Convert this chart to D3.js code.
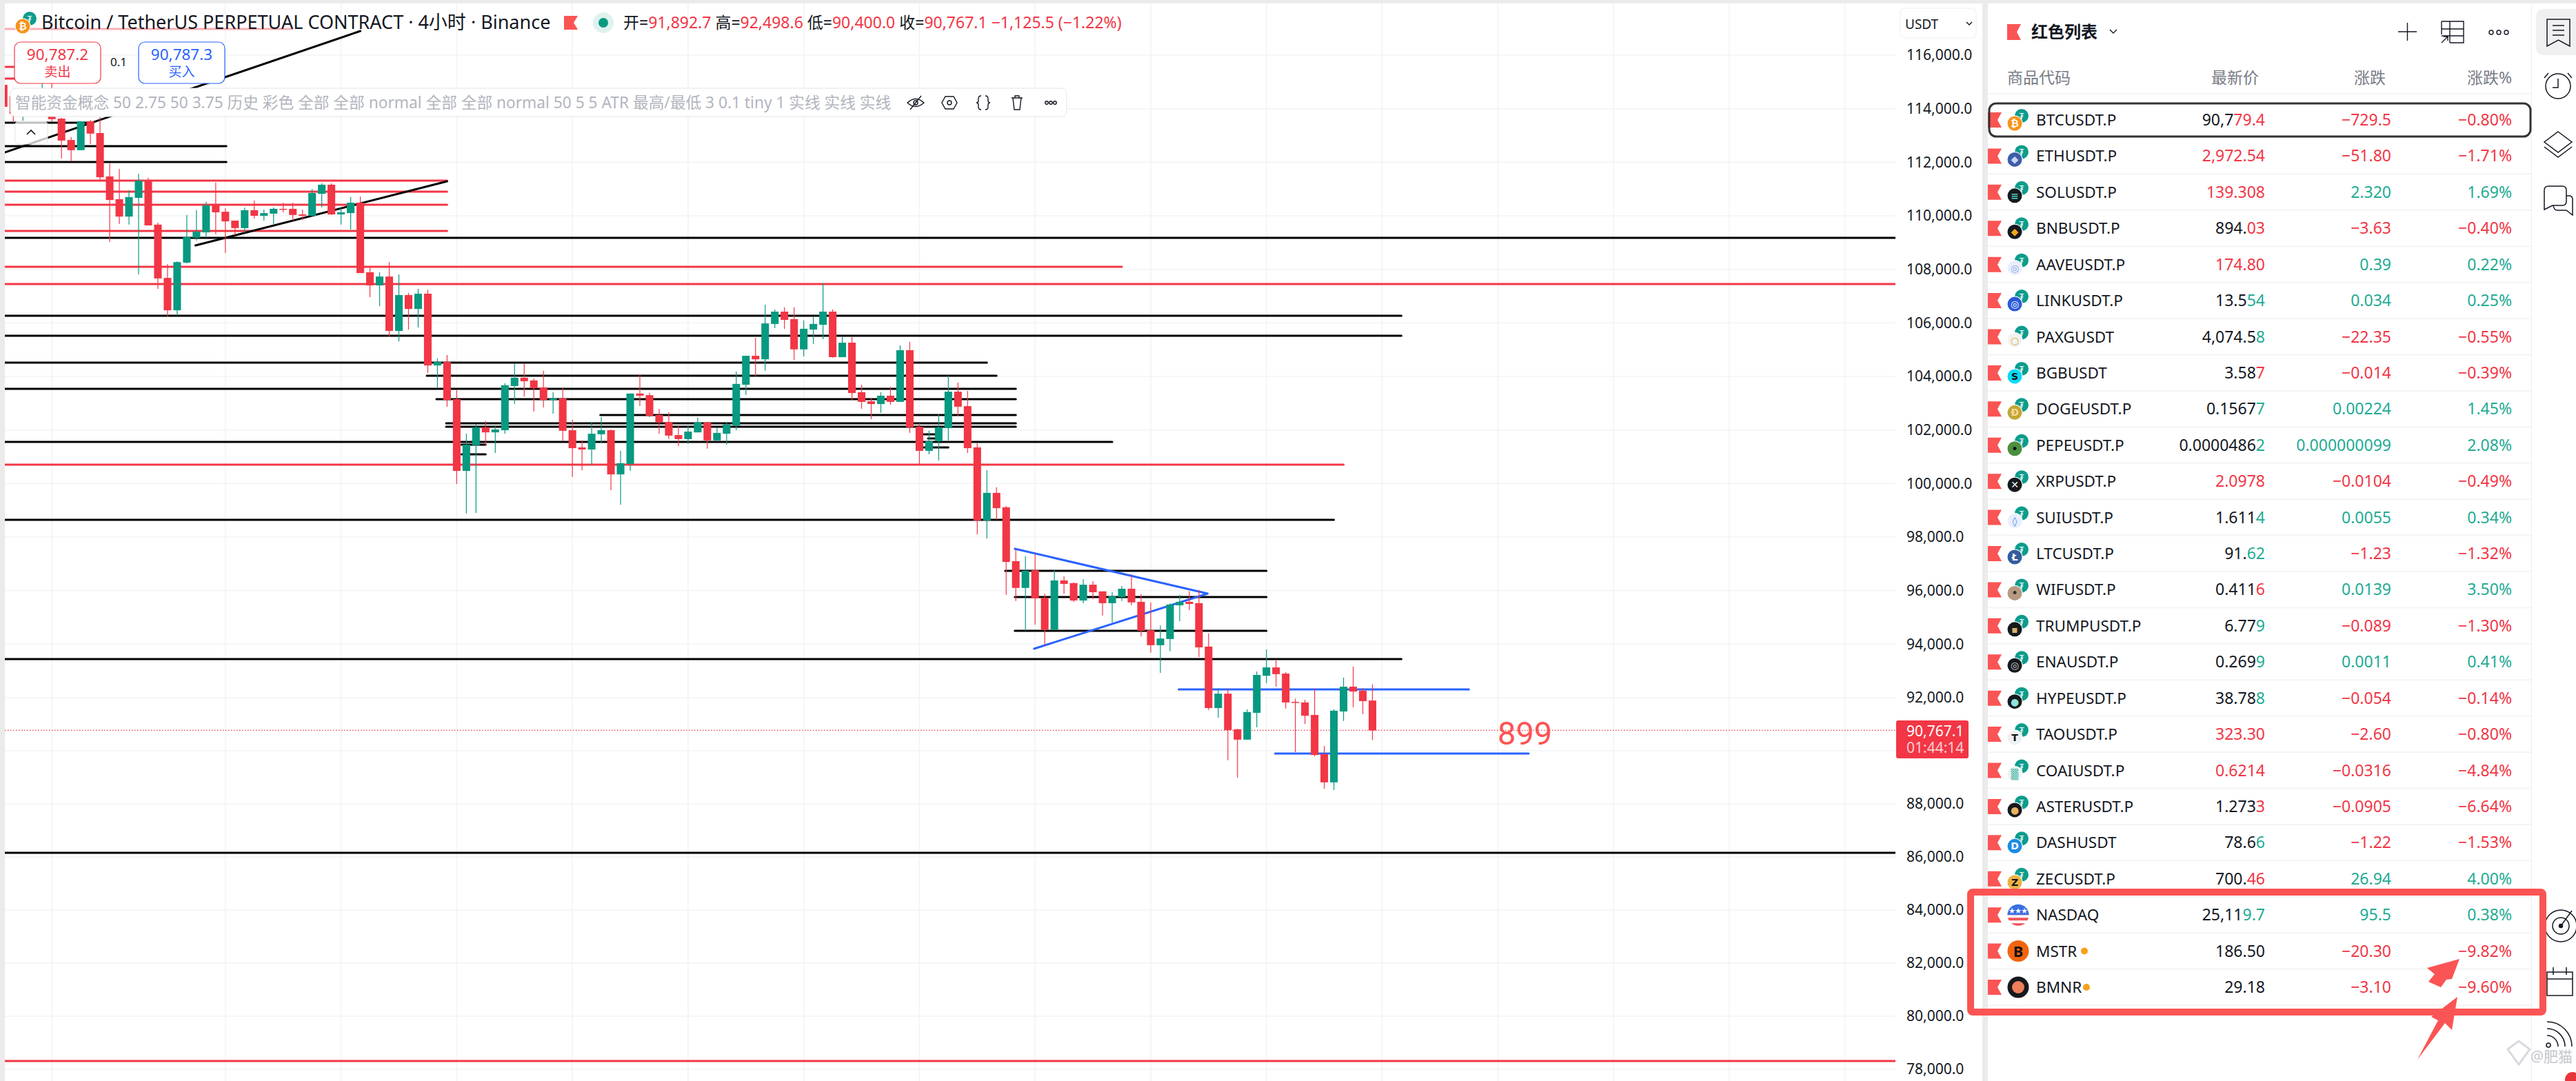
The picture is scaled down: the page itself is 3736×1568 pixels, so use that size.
<!DOCTYPE html>
<html>
<head>
<meta charset="utf-8">
<title>BTCUSDT.P</title>
<script src="https://cdn.jsdelivr.net/npm/d3@7"></script>
<style>
    html, body { margin: 0; background: #fff; overflow: hidden; }
    svg { display: block; }
    text { font-family: "Noto Sans", "Noto Sans CJK SC", sans-serif; }
</style>
</head>
<body>
<svg id="chart" width="3736" height="1568"></svg>
<script>
// 4h candles, oldest first
const opens = [114890,114460,113810,114580,113810,114580,113630,112830,112450,113530,113090,111470,110620,109970,110670,111310,109670,107680,106470,108250,109180,109380,110390,110150,109820,109540,110210,110000,110080,110260,110260,110050,110000,110820,111160,110050,110100,110490,107890,107400,107730,105700,107040,106520,107090,104410,104540,103150,100470,101430,102100,101910,101990,103640,103950,103850,103590,103120,103180,101990,101350,101270,101840,101990,100340,100730,103360,103300,102560,102300,101810,101660,101910,102280,101610,101860,102170,103690,104770,104640,105960,106420,106140,105010,105750,105930,106420,104720,105260,103410,103070,102970,103280,103050,104980,102120,101220,101580,102070,103430,102890,101350,98620,99650,99110,97100,96100,96760,95730,94530,96380,96280,95630,96220,95970,95530,95760,96070,95580,94520,93960,94190,95450,95580,95530,93910,91610,92150,90810,90420,91430,92820,93130,92900,91840,91820,91350,89870,88810,91480,92410,92260,91892.7];
const highs = [114970,114710,114580,114710,114970,114970,113660,112940,113530,113580,113680,111960,111750,110950,111570,111420,109740,108200,108300,110030,110210,110520,111240,110280,109820,110310,110570,110230,110310,110490,110490,110230,111000,111210,111210,110280,110700,110720,108070,107890,108270,107810,107120,107270,107240,104670,104800,103490,101860,102220,102330,102170,103740,104490,104490,103920,104210,103410,103590,102380,101610,102300,102480,102020,101220,103360,104080,103380,102790,102660,102150,102170,102460,102300,102070,102280,104180,104770,105440,106680,106500,106580,106580,106090,106240,107480,106500,105470,105470,103690,103180,103410,103610,105160,105290,102250,101970,102580,104030,103770,103460,101500,100500,99860,99160,97540,97280,97360,95890,96790,96530,96300,96430,96350,95970,95940,96170,96610,95860,95560,94700,95530,95840,95970,96020,94400,92360,92340,90830,91560,92980,93800,93420,92950,91970,91920,92340,90180,91560,92750,93160,92360,92498.6];
const lows = [113940,113480,113550,113810,113730,113500,112140,112030,112450,112680,111340,109020,109690,109670,107810,109640,107270,106240,106270,108220,109070,109180,109310,108610,109280,109360,109900,109820,109690,110130,109820,109850,109970,110310,110030,109670,109490,107860,106960,106630,105490,105310,105750,105830,104130,103560,102870,99980,98880,98900,101430,101140,101860,102970,103250,102690,102840,102610,101580,100240,100500,100700,101530,99750,99210,100470,102890,102480,101860,101660,101400,101480,101910,101300,101610,101450,101990,103310,104000,104210,105800,105780,104620,104750,105210,105390,104700,104720,103120,102790,102400,102640,102940,103050,101890,100730,101090,100860,101610,102510,101140,98100,97950,98650,95840,95610,94500,94730,93960,94530,95890,95580,95530,95680,95070,94810,95610,95450,94290,93680,92930,93730,94860,95270,93520,91530,91250,89640,88990,90420,90880,92540,92410,91590,89950,91010,89790,88570,88520,91120,91640,91380,90400];
const closes = [114070,113810,114200,113940,114460,113610,112810,112450,113530,113070,111440,110590,109970,110700,111310,109640,107660,106470,108270,109200,109410,110390,110130,109790,109540,110210,110000,110100,110260,110230,110030,110000,110850,111160,110050,110130,110490,107860,107400,107730,105700,107040,106520,107090,104410,104540,103120,100470,101450,102100,101910,102020,103670,103950,103820,103560,103120,103180,101970,101320,101270,101860,101990,100340,100760,103360,103280,102530,102280,101790,101660,101940,102280,101610,101890,102200,103720,104770,104640,105980,106420,106110,105010,105780,105960,106420,104720,105260,103380,103050,102970,103280,103050,104980,102100,101220,101580,102100,103430,102870,101320,98620,99650,99080,97070,96100,96740,95710,94530,96380,96250,95630,96220,95940,95530,95790,96070,95560,94500,93960,94210,95480,95580,95500,93880,91610,92150,90780,90420,91460,92850,93130,92880,91820,91820,91320,89840,88810,91510,92410,92230,91870,90767.1];

const priceTicks = [116000,114000,112000,110000,108000,106000,104000,102000,100000,98000,96000,94000,92000,90000,88000,86000,84000,82000,80000,78000];
const timeGridBars = [5,23,35,47,59,71,83,95,107,119,131,143,155,167,179,191];
const lastPrice = 90767.1;

// Drawn levels: [price, from bar, to bar]. Bars beyond the range just run off the pane.
const blackLevels = [[113476,-2,9.3],[112601,-2,23.1],[112009,-2,23.1],[109176,-2,200],[106267,-2,145],[105520,-2,145],[104515,-2,102],[104026,43.9,103],[103537,-2,105],[103151,44.9,105],[102559,61.9,105],[102250,45.9,105],[102121,45.9,105],[101554,-2,115],[101451,47.5,50],[101091,47.5,50],[101838,95.4,97],[101683,95.9,97],[101348,95.4,98],[98644,-2,138],[96739,103.9,131],[95760,104.9,131],[94499,104.9,131],[93443,-2,145],[86156,-2,200]];
const redLevels = [[115560,-2,8],[115125,-2,8],[111314,-2,46],[110901,-2,46],[110412,-2,46],[109434,-2,46],[108095,-2,116],[107451,-2,200],[100705,-2,139],[78312,-2,200]];
const fadedRedLevels = [[116978,-2,29.9]];
const blueLevels = [[92310,121.9,152],[89897,131.9,158.2]];

// Trend lines: [bar, price] points
const blackTrends = [[[0.12,112369],[37,116901]],[[19.9,108893],[46,111288]]];
const blueWedge = [[104.9,97563],[124.9,95889],[106.9,93829]];

// Watchlist
const symbols = ["BTCUSDT.P","ETHUSDT.P","SOLUSDT.P","BNBUSDT.P","AAVEUSDT.P","LINKUSDT.P","PAXGUSDT","BGBUSDT","DOGEUSDT.P","PEPEUSDT.P","XRPUSDT.P","SUIUSDT.P","LTCUSDT.P","WIFUSDT.P","TRUMPUSDT.P","ENAUSDT.P","HYPEUSDT.P","TAOUSDT.P","COAIUSDT.P","ASTERUSDT.P","DASHUSDT","ZECUSDT.P","NASDAQ","MSTR","BMNR"];
const priceHeads = ["90,7","","","894.","","13.5","4,074.5","3.58","0.1567","0.0000486","","1.611","91.","0.411","6.77","0.269","38.78","","","1.273","78.6","700.","25,11","186.50","29.18"];
const priceTails = ["79.4","2,972.54","139.308","03","174.80","54","8","7","7","2","2.0978","4","62","6","9","9","8","323.30","0.6214","3","6","46","9.7","",""];
const tailUp = [0,0,0,0,0,1,1,0,1,1,0,1,1,0,1,1,1,0,0,0,1,0,1,0,0];
const changes = ["\u2212729.5","\u221251.80","2.320","\u22123.63","0.39","0.034","\u221222.35","\u22120.014","0.00224","0.000000099","\u22120.0104","0.0055","\u22121.23","0.0139","\u22120.089","0.0011","\u22120.054","\u22122.60","\u22120.0316","\u22120.0905","\u22121.22","26.94","95.5","\u221220.30","\u22123.10"];
const changePcts = ["\u22120.80%","\u22121.71%","1.69%","\u22120.40%","0.22%","0.25%","\u22120.55%","\u22120.39%","1.45%","2.08%","\u22120.49%","0.34%","\u22121.32%","3.50%","\u22121.30%","0.41%","\u22120.14%","\u22120.80%","\u22124.84%","\u22126.64%","\u22121.53%","4.00%","0.38%","\u22129.82%","\u22129.60%"];
const coinColors = ["#f7931a","#3d5da8","#16191d","#16191d","#e9eefb","#2a5ada","#f1f3f4","#08d9f5","#c2a633","#4b8f3f","#16191d","#e8effc","#345d9d","#b79a80","#16191d","#16191d","#16191d","#eef1f3","#eef2f1","#16191d","#1c8ce3","#ecb244"];
const coinGlyphs = ["\u20BF","\u25C6","\u2261","\u25C6","\u25CE","\u25CE","\u25CB","S","\u00D0","\u2022","\u2715","\u25CA","\u0141","\u2022","\u25AA","\u25CE","\u25CF","T","\u2592","\u25CF","D","Z"];
const coinGlyphColors = ["#fff","#c9d6f5","#4fd1c5","#f0a81e","#8ea7ea","#fff","#e0a82e","#111","#f3d9a0","#111","#fff","#4c8bf5","#fff","#333","#d8b26a","#ccc","#8fe3d8","#111","#2bb3a3","#e8b25e","#fff","#111"];

const RED = "#f23645", GREEN = "#089981", TEAL = "#22ab94", BLUE = "#2962ff", MARK = "#fb5454";

const svg = d3.select("#chart");

// Scales for the price pane
const x = d3.scaleLinear().domain([0, 142]).range([5.3, 1990.5]);
const y = d3.scaleLinear().domain([78000, 92000, 116000]).range([1551, 1012, 80]);
const step = x(1) - x(0);
const bodyWidth = step * 0.79;

// Window backgrounds
svg.append("rect").attr("width", 3736).attr("height", 1568).attr("fill", "#fff");
svg.append("rect").attr("width", 3736).attr("height", 5).attr("fill", "#ebebeb");
svg.append("rect").attr("width", 7).attr("height", 1568).attr("fill", "#ebebeb");
svg.append("rect").attr("x", 2875).attr("width", 8).attr("height", 1568).attr("fill", "#ebebeb");
svg.append("rect").attr("x", 3671).attr("width", 1).attr("height", 1568).attr("fill", "#eeeeee");

svg.append("clipPath").attr("id", "pane").append("rect")
    .attr("x", 7).attr("y", 5).attr("width", 2742).attr("height", 1563);
const pane = svg.append("g").attr("clip-path", "url(#pane)");

// Grid
pane.selectAll(".grid-h").data(priceTicks).enter().append("line")
    .attr("x1", 7).attr("x2", 2749)
    .attr("y1", d => y(d)).attr("y2", d => y(d))
    .attr("stroke", "#f2f3f3").attr("stroke-width", 1.5);
pane.selectAll(".grid-v").data(timeGridBars).enter().append("line")
    .attr("x1", d => x(d)).attr("x2", d => x(d))
    .attr("y1", 5).attr("y2", 1568)
    .attr("stroke", "#f2f3f3").attr("stroke-width", 1.5);

// Last price line
pane.append("line")
    .attr("x1", 7).attr("x2", 2749)
    .attr("y1", y(lastPrice)).attr("y2", y(lastPrice))
    .attr("stroke", RED).attr("stroke-width", 1.2).attr("stroke-dasharray", "1.5 2.5");

// Horizontal levels
function drawLevels(levels, color, opacity) {
    pane.append("g").selectAll("line").data(levels).enter().append("line")
        .attr("x1", d => x(d[1])).attr("x2", d => x(d[2]))
        .attr("y1", d => y(d[0])).attr("y2", d => y(d[0]))
        .attr("stroke", color).attr("stroke-width", 3)
        .attr("stroke-linecap", "round").attr("opacity", opacity);
}
drawLevels(blackLevels, "#000", 1);
drawLevels(redLevels, RED, 1);
drawLevels(fadedRedLevels, RED, 0.4);
drawLevels(blueLevels, BLUE, 1);

// Trend lines
const trendPath = d3.line().x(d => x(d[0])).y(d => y(d[1]));
pane.selectAll(".trend").data(blackTrends).enter().append("path")
    .attr("d", trendPath).attr("fill", "none")
    .attr("stroke", "#000").attr("stroke-width", 3).attr("stroke-linecap", "round");
pane.append("path").attr("d", trendPath(blueWedge)).attr("fill", "none")
    .attr("stroke", BLUE).attr("stroke-width", 3)
    .attr("stroke-linecap", "round").attr("stroke-linejoin", "round");

// Candles
const candles = pane.selectAll(".candle").data(d3.range(opens.length)).enter().append("g");
candles.append("line")
    .attr("x1", i => x(i)).attr("x2", i => x(i))
    .attr("y1", i => y(highs[i])).attr("y2", i => y(lows[i]))
    .attr("stroke", i => closes[i] < opens[i] ? RED : GREEN)
    .attr("stroke-width", 1.2);
candles.append("rect")
    .attr("x", i => x(i) - bodyWidth / 2)
    .attr("width", bodyWidth)
    .attr("y", i => y(Math.max(opens[i], closes[i])))
    .attr("height", i => Math.max(1.5, Math.abs(y(opens[i]) - y(closes[i]))))
    .attr("fill", i => closes[i] < opens[i] ? RED : GREEN);

// Red note drawn on the chart
svg.append("text").attr("x", 2172).attr("y", 1080)
    .attr("font-size", 47).attr("font-weight", 400).attr("fill", MARK)
    .style("font-family", "Roboto").text("899");

// Price axis
const yAxis = svg.append("g")
    .attr("transform", "translate(2757, 0)")
    .call(d3.axisRight(y).tickValues(priceTicks).tickFormat(d3.format(",.1f")).tickSize(0).tickPadding(8));
yAxis.select(".domain").remove();
yAxis.selectAll("text").attr("font-size", 21).attr("fill", "#131722")
    .style("font-family", '"Noto Sans", sans-serif');

// USDT selector
svg.append("rect").attr("x", 2756).attr("y", 12).attr("width", 110).attr("height", 43).attr("rx", 6)
    .attr("fill", "#fff").attr("stroke", "#eeeeee");
svg.append("text").attr("x", 2763).attr("y", 42).attr("font-size", 19).attr("fill", "#131722").text("USDT");
svg.append("path").attr("d", "M2852 32l4 4l4-4").attr("fill", "none").attr("stroke", "#131722").attr("stroke-width", 1.5);

// Current price tag
svg.append("rect").attr("x", 2750).attr("y", 1045).attr("width", 105).attr("height", 55).attr("rx", 3).attr("fill", RED);
svg.append("text").attr("x", 2765).attr("y", 1068).attr("font-size", 21).attr("fill", "#fff").text(d3.format(",.1f")(lastPrice));
svg.append("text").attr("x", 2765).attr("y", 1092).attr("font-size", 21).attr("fill", "#fff").attr("opacity", 0.75).text("01:44:14");

// Flag marker, shared by the header and the watchlist
function flag(parent, fx, fy, w, h) {
    parent.append("path")
        .attr("d", `M${fx} ${fy}h${w}l${-w * 0.3} ${h / 2}l${w * 0.3} ${h / 2}h${-w}z`)
        .attr("fill", MARK);
}

// USDT badge with the base coin in front
function coinPair(parent, cx, cy, color, glyph, glyphColor) {
    parent.append("circle").attr("cx", cx + 10).attr("cy", cy - 11).attr("r", 10).attr("fill", "#0c9c8c");
    parent.append("text").attr("x", cx + 10).attr("y", cy - 6).attr("text-anchor", "middle")
        .attr("font-size", 12).attr("fill", "#fff").text("\u20AE");
    parent.append("circle").attr("cx", cx).attr("cy", cy).attr("r", 11.5).attr("fill", "#fff");
    parent.append("circle").attr("cx", cx).attr("cy", cy).attr("r", 10.5).attr("fill", color);
    parent.append("text").attr("x", cx).attr("y", cy + 5).attr("text-anchor", "middle")
        .attr("font-size", 14).attr("font-weight", 700).attr("fill", glyphColor)
        .style("font-family", '"DejaVu Sans", sans-serif').text(glyph);
}

// Chart title row
coinPair(svg, 33, 38, "#f7931a", "\u20BF", "#fff");
svg.append("text").attr("x", 60).attr("y", 42).attr("font-size", 27).attr("fill", "#131722")
    .text("Bitcoin / TetherUS PERPETUAL CONTRACT \u00B7 4\u5C0F\u65F6 \u00B7 Binance");
flag(svg, 818, 23, 20, 20);
svg.append("circle").attr("cx", 875).attr("cy", 33).attr("r", 15).attr("fill", "#dff2ef");
svg.append("circle").attr("cx", 875).attr("cy", 33).attr("r", 7).attr("fill", GREEN);

const ohlc = svg.append("text").attr("x", 904).attr("y", 41).attr("font-size", 23).attr("fill", RED);
[["\u5F00=", "#131722"], ["91,892.7 ", RED], ["\u9AD8=", "#131722"], ["92,498.6 ", RED], ["\u4F4E=", "#131722"], ["90,400.0 ", RED], ["\u6536=", "#131722"], ["90,767.1 ", RED], ["\u22121,125.5 (\u22121.22%)", RED]]
    .forEach(p => ohlc.append("tspan").attr("fill", p[1]).text(p[0]));

// Sell and buy buttons
function tradeBox(bx, color, price, label) {
    svg.append("rect").attr("x", bx).attr("y", 61).attr("width", 125).attr("height", 60).attr("rx", 9)
        .attr("fill", "#fff").attr("stroke", color).attr("stroke-width", 1.2);
    svg.append("text").attr("x", bx + 62.5).attr("y", 87).attr("text-anchor", "middle")
        .attr("font-size", 22.500).attr("fill", color).text(price);
    svg.append("text").attr("x", bx + 62.5).attr("y", 111).attr("text-anchor", "middle")
        .attr("font-size", 19).attr("fill", color).text(label);
}
tradeBox(21, RED, "90,787.2", "\u5356\u51FA");
tradeBox(201, BLUE, "90,787.3", "\u4E70\u5165");
svg.append("text").attr("x", 172).attr("y", 96).attr("text-anchor", "middle")
    .attr("font-size", 17).attr("fill", "#131722").text("0.1");

// Indicator legend pane
svg.append("rect").attr("x", 15).attr("y", 128).attr("width", 1532).attr("height", 41).attr("rx", 8)
    .attr("fill", "#fff").attr("stroke", "#e0e3eb");
svg.append("text").attr("x", 22).attr("y", 157).attr("font-size", 22.7).attr("fill", "#b2b5be")
    .text("\u667A\u80FD\u8D44\u91D1\u6982\u5FF5 50 2.75 50 3.75 \u5386\u53F2 \u5F69\u8272 \u5168\u90E8 \u5168\u90E8 normal \u5168\u90E8 \u5168\u90E8 normal 50 5 5 ATR \u6700\u9AD8/\u6700\u4F4E 3 0.1 tiny 1 \u5B9E\u7EBF \u5B9E\u7EBF \u5B9E\u7EBF");

const legendIcons = svg.append("g").attr("fill", "none").attr("stroke", "#131722").attr("stroke-width", 1.4);
legendIcons.append("path").attr("d", "M1316 149q12-11 24 0q-12 11-24 0zM1320 159l16-20");
legendIcons.append("circle").attr("cx", 1328).attr("cy", 149).attr("r", 3);
legendIcons.append("path").attr("d", "M1371 140h12l5 9l-5 9h-12l-5-9z");
legendIcons.append("circle").attr("cx", 1377).attr("cy", 149).attr("r", 3);
legendIcons.append("path").attr("d", "M1423 139q-4 0-4 4v3q0 3-3 3q3 0 3 3v3q0 4 4 4M1429 139q4 0 4 4v3q0 3 3 3q-3 0-3 3v3q0 4-4 4");
legendIcons.append("path").attr("d", "M1467 142h16M1472 142v-3h6v3M1469 142l2 17h8l2-17");
[1518, 1524, 1530].forEach(dx => legendIcons.append("circle").attr("cx", dx).attr("cy", 149).attr("r", 2.2));

// Collapse button
svg.append("rect").attr("x", 22).attr("y", 176).attr("width", 47).attr("height", 33).attr("rx", 5)
    .attr("fill", "#fff").attr("fill-opacity", 0.75).attr("stroke", "#e0e3eb");
svg.append("path").attr("d", "M39 195l6-6l6 6").attr("fill", "none").attr("stroke", "#131722").attr("stroke-width", 1.6);

// Watchlist header
flag(svg, 2911, 35, 20, 23);
svg.append("text").attr("x", 2946).attr("y", 55).attr("font-size", 24).attr("font-weight", 700).attr("fill", "#131722")
    .text("\u7EA2\u8272\u5217\u8868");
const listIcons = svg.append("g").attr("fill", "none").attr("stroke", "#131722").attr("stroke-width", 1.4);
listIcons.append("path").attr("d", "M3060 43l5 5l5-5");
listIcons.append("path").attr("d", "M3491.5 33v26M3478 46h27");
listIcons.append("path").attr("d", "M3541 31h32v31h-20M3553 31v31M3541 42h32M3541 52h32M3541 31v19M3541 62l9-9M3544 53h6v6");
[3613, 3624, 3635].forEach(dx => listIcons.append("circle").attr("cx", dx).attr("cy", 47).attr("r", 3));

const headerRow = svg.append("g").attr("font-size", 23).attr("fill", "#787b86");
headerRow.append("text").attr("x", 2911).attr("y", 121).text("\u5546\u54C1\u4EE3\u7801");
headerRow.append("text").attr("x", 3276).attr("y", 121).attr("text-anchor", "end").text("\u6700\u65B0\u4EF7");
headerRow.append("text").attr("x", 3460).attr("y", 121).attr("text-anchor", "end").text("\u6DA8\u8DCC");
headerRow.append("text").attr("x", 3643).attr("y", 121).attr("text-anchor", "end").text("\u6DA8\u8DCC%");
svg.append("line").attr("x1", 2883).attr("x2", 3671).attr("y1", 136).attr("y2", 136).attr("stroke", "#f0f3fa").attr("stroke-width", 1.5);

// Watchlist rows
const rowY = d3.scalePoint().domain(symbols).range([174, 1432]);
const rows = svg.selectAll(".row").data(symbols).enter().append("g")
    .attr("transform", d => `translate(0, ${rowY(d)})`);

rows.append("line").attr("x1", 2883).attr("x2", 3671).attr("y1", 26).attr("y2", 26)
    .attr("stroke", "#f3f4f6").attr("stroke-width", 2);
rows.each(function (d, i) {
    const row = d3.select(this);
    flag(row, 2883, -11, 20, 22);
    if (i < coinColors.length) coinPair(row, 2922, 5, coinColors[i], coinGlyphs[i], coinGlyphColors[i]);
});
rows.append("text").attr("x", 2953).attr("y", 8).attr("font-size", 22.5).attr("fill", "#131722").text(d => d);

const priceText = rows.append("text").attr("x", 3285).attr("y", 8).attr("text-anchor", "end").attr("font-size", 23);
priceText.append("tspan").attr("fill", "#131722").text((d, i) => priceHeads[i]);
priceText.append("tspan").attr("fill", (d, i) => tailUp[i] ? TEAL : RED).text((d, i) => priceTails[i]);

const isUp = i => !changes[i].startsWith("\u2212");
rows.append("text").attr("x", 3468).attr("y", 8).attr("text-anchor", "end").attr("font-size", 23)
    .attr("fill", (d, i) => isUp(i) ? TEAL : RED).text((d, i) => changes[i]);
rows.append("text").attr("x", 3643).attr("y", 8).attr("text-anchor", "end").attr("font-size", 23)
    .attr("fill", (d, i) => isUp(i) ? TEAL : RED).text((d, i) => changePcts[i]);

// Selected row outline
svg.append("rect").attr("x", 2885).attr("y", 150).attr("width", 785).attr("height", 48).attr("rx", 10)
    .attr("fill", "none").attr("stroke", "#333").attr("stroke-width", 3);

// Stock icons at the end of the list
const nasdaqY = rowY("NASDAQ"), mstrY = rowY("MSTR"), bmnrY = rowY("BMNR");
svg.append("clipPath").attr("id", "usflag").append("circle").attr("cx", 2927).attr("cy", nasdaqY).attr("r", 15.5);
const us = svg.append("g").attr("clip-path", "url(#usflag)");
us.append("rect").attr("x", 2911).attr("y", nasdaqY - 16).attr("width", 32).attr("height", 32).attr("fill", "#fff");
d3.range(3).forEach(k => us.append("rect").attr("x", 2911).attr("y", nasdaqY - 4 + k * 8).attr("width", 32).attr("height", 4).attr("fill", "#f0555a"));
us.append("rect").attr("x", 2911).attr("y", nasdaqY - 16).attr("width", 32).attr("height", 16).attr("fill", "#3b6fe0");
us.append("text").attr("x", 2927).attr("y", nasdaqY - 3).attr("text-anchor", "middle").attr("font-size", 9).attr("fill", "#fff").text("\u2605\u2605\u2605");
svg.append("circle").attr("cx", 2927).attr("cy", mstrY).attr("r", 15.5).attr("fill", "#f2640f");
svg.append("text").attr("x", 2927).attr("y", mstrY + 8).attr("text-anchor", "middle").attr("font-size", 22).attr("font-weight", 700).attr("fill", "#111").text("B");
svg.append("circle").attr("cx", 2927).attr("cy", bmnrY).attr("r", 15.5).attr("fill", "#16191d");
svg.append("circle").attr("cx", 2927).attr("cy", bmnrY).attr("r", 9).attr("fill", "#ee7f5a");
svg.append("circle").attr("cx", 3023).attr("cy", mstrY).attr("r", 5).attr("fill", "#f7a11a");
svg.append("circle").attr("cx", 3026).attr("cy", bmnrY).attr("r", 5).attr("fill", "#f7a11a");

// Right toolbar
svg.append("path").attr("d", "M3736 13h-46q-12 0-12 12v43q0 12 12 12h46z").attr("fill", "#f0f0f0");
const tools = svg.append("g").attr("fill", "none").attr("stroke", "#131722").attr("stroke-width", 1.5);
tools.append("path").attr("d", "M3694 28h33v39l-16.500-9l-16.500 9zM3702 37h17M3702 44h17M3702 51h17");
tools.append("circle").attr("cx", 3710).attr("cy", 125).attr("r", 18);
tools.append("path").attr("d", "M3710 114v13h-8M3690 113l6-7M3730 113l-6-7");
tools.append("path").attr("d", "M3710 191l20 15l-20 15l-20-15zM3690 213l20 15l20-15");
tools.append("path").attr("d", "M3696 270h20q6 0 6 6v16q0 6-6 6h-14l-12 6v-28q0-6 6-6zM3722 284h4q5 0 5 5v23l-9-7h-13q-5 0-6-7");
tools.append("circle").attr("cx", 3714).attr("cy", 1343).attr("r", 23);
tools.append("circle").attr("cx", 3714).attr("cy", 1343).attr("r", 12);
tools.append("circle").attr("cx", 3714).attr("cy", 1343).attr("r", 2.5).attr("fill", "#131722");
tools.append("path").attr("d", "M3714 1343l16-22");
tools.append("path").attr("d", "M3694 1410h37v34h-37zM3694 1420h37M3703 1403v11M3722 1403v11");
tools.append("path").attr("d", "M3694 1482a36 36 0 0 1 36 36M3694 1492a26 26 0 0 1 26 26M3694 1502a16 16 0 0 1 16 16");
tools.append("circle").attr("cx", 3696).attr("cy", 1516).attr("r", 3);

// Red annotation box and arrows on top of the list
svg.append("rect").attr("x", 2858).attr("y", 1294).attr("width", 830).attr("height", 174).attr("rx", 3)
    .attr("fill", "none").attr("stroke", MARK).attr("stroke-width", 10);
svg.append("polygon").attr("points", "3567,1391 3520,1404 3531,1413 3522,1424 3540,1432 3548,1421 3556,1420").attr("fill", MARK);
svg.append("polygon").attr("points", "3564,1446 3526,1475 3536,1480 3506,1537 3546,1484 3556,1494").attr("fill", MARK);

// Watermark
svg.append("path").attr("d", "M3637 1522l16-12l16 12l-16 22z").attr("fill", "none").attr("stroke", "#d8dadf").attr("stroke-width", 3);
svg.append("text").attr("x", 3670).attr("y", 1540).attr("font-size", 21).attr("fill", "#c4c7cc").text("@\u80A5\u732B");
svg.append("circle").attr("cx", 3731).attr("cy", 1566).attr("r", 11).attr("fill", "#e8343b");
</script>
</body>
</html>
